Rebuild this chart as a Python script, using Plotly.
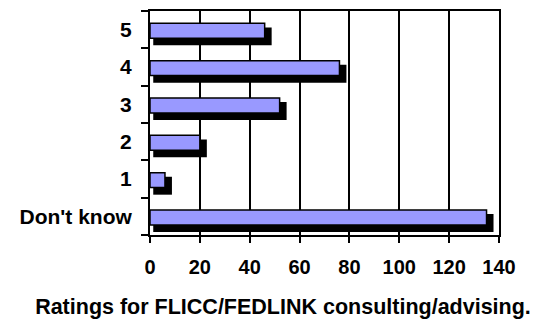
import plotly.graph_objects as go

# Survey ratings, listed top to bottom as they appear on the chart
categories = ["5", "4", "3", "2", "1", "Don't know"]
counts = [46, 76, 52, 20, 6, 135]
x_ticks = [0, 20, 40, 60, 80, 100, 120, 140]

# Numeric row positions so the drop shadow can sit slightly below each bar
rows = list(range(len(categories) - 1, -1, -1))
shadow_base = 1.3
shadow_extra = 2.8
shadow_len = [c + shadow_extra - shadow_base for c in counts]

FONT = "Liberation Sans, Arial, sans-serif"

fig = go.Figure()

# black drop shadow behind each bar
fig.add_trace(go.Bar(
    y=rows, x=shadow_len, base=shadow_base, orientation="h",
    offset=-0.42, width=0.48,
    marker=dict(color="black", line=dict(width=0)),
    hoverinfo="skip", showlegend=False,
))

# lavender bars with black outline
fig.add_trace(go.Bar(
    y=rows, x=counts, orientation="h",
    offset=-0.23, width=0.40,
    marker=dict(color="#9999ff", line=dict(color="black", width=1.5)),
    showlegend=False,
))

fig.update_layout(
    width=537, height=322,
    margin=dict(l=150, r=38, t=9, b=87),
    paper_bgcolor="white", plot_bgcolor="white",
    barmode="overlay",
    font=dict(family=FONT, size=20, color="black", weight="bold"),
    title=dict(
        text="Ratings for FLICC/FEDLINK consulting/advising.",
        x=0.527, xanchor="center", xref="container",
        y=0.048, yanchor="middle", yref="container",
        font=dict(family=FONT, size=21.5, color="black", weight="bold"),
    ),
)

fig.update_xaxes(
    range=[0, 140], tickvals=x_ticks,
    showgrid=True, gridcolor="black", gridwidth=1.5,
    showline=True, linecolor="black", linewidth=2, mirror=True,
    ticks="outside", ticklen=6, tickwidth=1.5, tickcolor="black",
    ticklabelstandoff=7,
    zeroline=False,
    tickfont=dict(family=FONT, size=20, color="black", weight="bold"),
)

fig.update_yaxes(
    range=[-0.5, len(categories) - 0.5],
    tickvals=rows, ticktext=categories,
    ticks="", showgrid=False, zeroline=False,
    showline=True, linecolor="black", linewidth=2, mirror=True,
    ticklabelstandoff=12,
    minor=dict(
        tickvals=[r + 0.5 for r in range(-1, len(categories))],
        ticks="outside", ticklen=7, tickwidth=1.5, tickcolor="black",
        showgrid=False,
    ),
    tickfont=dict(family=FONT, size=21, color="black", weight="bold"),
)

fig.write_html("out.html")
